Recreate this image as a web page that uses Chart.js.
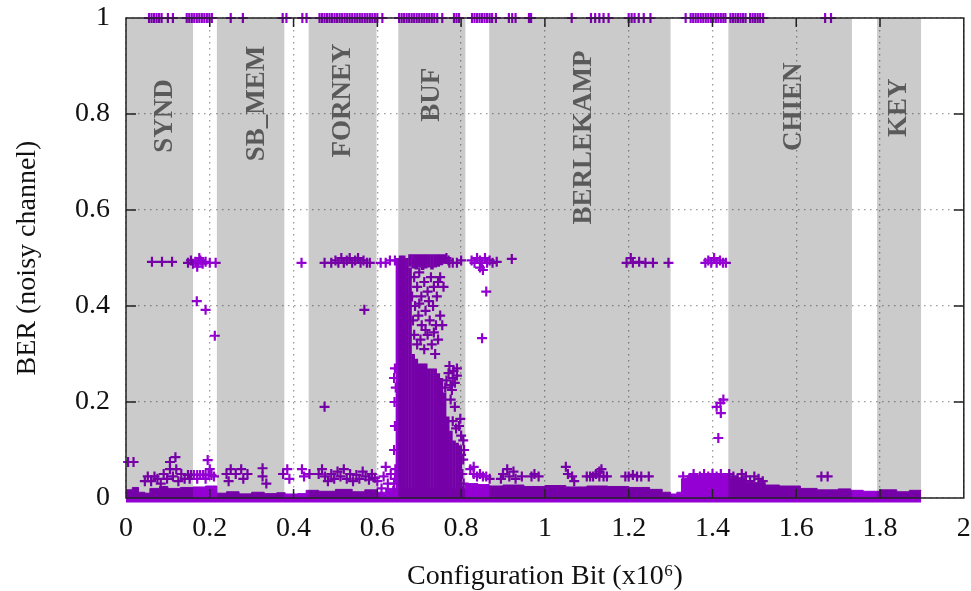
<!DOCTYPE html>
<html>
<head>
  <title>BER per configuration bit</title>
  <script src="https://cdn.jsdelivr.net/npm/chart.js"></script>
</head>
<body style="margin:0; background:#fff">
  <canvas id="chart" width="971" height="591"></canvas>

  <script>
    // module regions (x in units of 10^6 bits)
    const regionNames = ["SYND", "SB_MEM", "FORNEY", "BUF", "BERLEKAMP", "CHIEN", "KEY"];
    const regionStart = [0, 0.217, 0.436, 0.65, 0.867, 1.438, 1.793];
    const regionEnd = [0.16, 0.378, 0.598, 0.81, 1.3, 1.733, 1.898];

    const xTickLabels = ["0", "0.2", "0.4", "0.6", "0.8", "1", "1.2", "1.4", "1.6", "1.8", "2"];
    const yTickLabels = ["0", "0.2", "0.4", "0.6", "0.8", "1"];

    // bits with BER = 1
    const topX = [0.055, 0.061, 0.067, 0.073, 0.079, 0.085, 0.1, 0.112,
      0.145, 0.151, 0.157, 0.163, 0.169, 0.175, 0.181, 0.187, 0.193, 0.199, 0.205,
      0.25, 0.279, 0.374, 0.383, 0.421, 0.431,
      0.462, 0.468, 0.474, 0.48, 0.486, 0.492, 0.498, 0.504, 0.51, 0.516, 0.522, 0.528, 0.534,
      0.54, 0.546, 0.552, 0.558, 0.564, 0.57, 0.576, 0.582, 0.588, 0.594, 0.6, 0.612,
      0.652, 0.658, 0.664, 0.67, 0.676, 0.682, 0.688, 0.694, 0.7, 0.706, 0.712, 0.718,
      0.724, 0.73, 0.736, 0.743, 0.755, 0.783, 0.789, 0.795,
      0.826, 0.832, 0.838, 0.844, 0.85, 0.856, 0.862, 0.868, 0.874, 0.883,
      0.914, 0.922, 0.93, 0.962, 0.967, 1.064, 1.11, 1.12, 1.13, 1.14, 1.152,
      1.2, 1.207, 1.214, 1.224, 1.236, 1.252, 1.336,
      1.348, 1.354, 1.36, 1.366, 1.372, 1.378, 1.384, 1.39, 1.396, 1.402, 1.408, 1.414, 1.42, 1.426, 1.431,
      1.443, 1.449, 1.455, 1.461, 1.467, 1.473, 1.479, 1.49, 1.496, 1.502, 1.508, 1.514, 1.521,
      1.669, 1.683];

    // scattered bits around BER 0.5 and mid values
    const midX = [0.062, 0.086, 0.11, 0.148, 0.155, 0.16, 0.166, 0.172, 0.178, 0.183, 0.19, 0.2, 0.214, 0.175, 0.17,
      0.169, 0.19, 0.212, 0.419,
      0.474, 0.49, 0.5, 0.507, 0.514, 0.52, 0.527, 0.534, 0.54, 0.547, 0.554, 0.56, 0.567, 0.575, 0.582,
      0.569, 0.474, 0.608, 0.62, 0.63, 0.77, 0.78, 0.79, 0.8,
      0.825, 0.832, 0.838, 0.845, 0.85, 0.857, 0.862, 0.868, 0.875, 0.885, 0.845, 0.852,
      0.86, 0.85, 0.921,
      1.195, 1.205, 1.21, 1.225, 1.24, 1.258, 1.295,
      1.383, 1.39, 1.397, 1.404, 1.41, 1.418, 1.425, 1.432,
      1.41, 1.419, 1.426, 1.42, 1.414];
    const midY = [0.492, 0.492, 0.492, 0.49, 0.495, 0.488, 0.492, 0.49, 0.495, 0.488, 0.492, 0.49, 0.49, 0.5, 0.482,
      0.41, 0.392, 0.338, 0.49,
      0.49, 0.49, 0.495, 0.49, 0.5, 0.49, 0.495, 0.5, 0.49, 0.495, 0.5, 0.49, 0.495, 0.49, 0.49,
      0.392, 0.19, 0.49, 0.49, 0.495, 0.495, 0.49, 0.49, 0.495,
      0.495, 0.49, 0.5, 0.495, 0.49, 0.5, 0.49, 0.495, 0.49, 0.492, 0.48, 0.475,
      0.43, 0.333, 0.498,
      0.49, 0.5, 0.49, 0.492, 0.49, 0.49, 0.49,
      0.49, 0.495, 0.49, 0.5, 0.49, 0.495, 0.49, 0.49,
      0.19, 0.198, 0.205, 0.177, 0.125];

    // scattered bits with low BER (0.02 - 0.09)
    const lowX = [0.005, 0.018, 0.045, 0.052, 0.06, 0.068, 0.075, 0.083, 0.09, 0.098, 0.105, 0.105, 0.112, 0.118, 0.12, 0.125, 0.132, 0.14,
      0.148, 0.155, 0.162, 0.17, 0.177, 0.184, 0.19, 0.197, 0.204, 0.152, 0.17, 0.19, 0.195, 0.2, 0.21,
      0.24, 0.245, 0.25, 0.262, 0.275, 0.28, 0.29, 0.326, 0.326, 0.335, 0.375, 0.385, 0.39, 0.42, 0.425, 0.438,
      0.46, 0.468, 0.475, 0.482, 0.49, 0.497, 0.505, 0.512, 0.52, 0.527, 0.535, 0.542, 0.55, 0.557, 0.565, 0.572, 0.58, 0.587, 0.594, 0.6,
      0.61, 0.615, 0.62, 0.625, 0.632, 0.638, 0.642,
      0.822, 0.83, 0.838, 0.845, 0.852, 0.86, 0.868, 0.83,
      0.895, 0.9, 0.91, 0.915, 0.925, 0.93, 0.945, 0.968, 0.975, 0.985,
      1.05, 1.055, 1.065, 1.07, 1.1, 1.108, 1.115, 1.122, 1.13, 1.135, 1.14, 1.148, 1.13,
      1.192, 1.2, 1.21, 1.22, 1.23, 1.248,
      1.33, 1.345, 1.355, 1.36, 1.37, 1.38, 1.39, 1.4, 1.41, 1.42, 1.43, 1.44, 1.45, 1.46, 1.47, 1.48, 1.49, 1.5, 1.51, 1.52,
      1.66, 1.675];
    const lowY = [0.075, 0.075, 0.035, 0.045, 0.035, 0.045, 0.04, 0.03, 0.05, 0.04, 0.06, 0.075, 0.045, 0.085, 0.06, 0.035, 0.05, 0.04,
      0.048, 0.048, 0.048, 0.048, 0.048, 0.048, 0.048, 0.048, 0.048, 0.04, 0.04, 0.04, 0.079, 0.06, 0.045,
      0.05, 0.035, 0.06, 0.05, 0.06, 0.04, 0.05, 0.062, 0.045, 0.03, 0.05, 0.06, 0.04, 0.06, 0.045, 0.05,
      0.05, 0.06, 0.045, 0.035, 0.05, 0.04, 0.055, 0.045, 0.06, 0.04, 0.05, 0.035, 0.048, 0.04, 0.055, 0.045, 0.038, 0.05, 0.042, 0.035,
      0.02, 0.045, 0.065, 0.03, 0.05, 0.015, 0.04,
      0.06, 0.05, 0.045, 0.05, 0.045, 0.045, 0.04, 0.065,
      0.04, 0.05, 0.06, 0.045, 0.055, 0.04, 0.045, 0.045, 0.05, 0.045,
      0.065, 0.05, 0.045, 0.035, 0.045, 0.045, 0.045, 0.05, 0.045, 0.06, 0.045, 0.045, 0.055,
      0.045, 0.045, 0.048, 0.045, 0.045, 0.045,
      0.045, 0.04, 0.05, 0.03, 0.045, 0.05, 0.045, 0.05, 0.045, 0.05, 0.04, 0.05, 0.045, 0.04, 0.05, 0.045, 0.035, 0.045, 0.04, 0.035,
      0.045, 0.045];

    // BUF: scattered bits around the dense cloud
    const bufX = [0.642, 0.765, 0.772,
      0.688, 0.695, 0.7, 0.705, 0.712, 0.72, 0.728, 0.735, 0.742, 0.69, 0.698, 0.706, 0.715, 0.725, 0.733, 0.74, 0.75,
      0.688, 0.695, 0.703, 0.712, 0.72, 0.73, 0.738, 0.745, 0.755, 0.683, 0.685, 0.7, 0.723, 0.745, 0.75, 0.758, 0.715, 0.735,
      0.77, 0.78, 0.79, 0.785, 0.775, 0.765, 0.79, 0.782, 0.772, 0.762, 0.778,
      0.8, 0.805, 0.795, 0.78, 0.788, 0.798, 0.807, 0.775, 0.785,
      0.64, 0.642, 0.64, 0.643, 0.642, 0.641, 0.644, 0.64,
      0.805, 0.803, 0.806, 0.802, 0.8];
    const bufY = [0.495, 0.5, 0.49,
      0.46, 0.44, 0.47, 0.42, 0.45, 0.43, 0.46, 0.44, 0.42, 0.4, 0.38, 0.36, 0.39, 0.37, 0.4, 0.36, 0.38,
      0.34, 0.32, 0.33, 0.31, 0.34, 0.32, 0.3, 0.33, 0.36, 0.42, 0.37, 0.405, 0.41, 0.45, 0.46, 0.44, 0.35, 0.345,
      0.26, 0.25, 0.255, 0.24, 0.235, 0.245, 0.27, 0.265, 0.275, 0.23, 0.225,
      0.13, 0.12, 0.15, 0.16, 0.145, 0.165, 0.1, 0.205, 0.19,
      0.25, 0.27, 0.1, 0.06, 0.15, 0.2, 0.23, 0.03,
      0.08, 0.05, 0.03, 0.015, 0.09];

    // BUF: solid part of the cloud, per column
    const bufColX = [0.648, 0.6555, 0.663, 0.6705, 0.678, 0.6855, 0.693, 0.7005, 0.708, 0.7155, 0.723,
      0.7305, 0.738, 0.7455, 0.753, 0.7605, 0.768, 0.7755, 0.783, 0.7905, 0.798];
    const bufLowTop = [0.5, 0.505, 0.505, 0.5, 0.48, 0.3, 0.29, 0.28, 0.28, 0.28, 0.27,
      0.27, 0.27, 0.26, 0.25, 0.22, 0.17, 0.14, 0.12, 0.115, 0.11];
    const bufHighBottom = [null, null, null, null, 0.482, 0.478, 0.476, 0.48, 0.475, 0.478, 0.48,
      0.476, 0.48, 0.482, 0.485, 0.488, null, null, null, null, null];

    // upper edge of the dense band of bits with BER close to 0
    const bandX = [0, 0.015, 0.03, 0.045, 0.057, 0.08, 0.1, 0.13, 0.16, 0.19, 0.217, 0.24, 0.27, 0.3, 0.33, 0.36, 0.38, 0.41, 0.43,
      0.46, 0.5, 0.54, 0.57, 0.6, 0.62, 0.645, 0.81, 0.84, 0.867, 0.9, 0.95, 1.0, 1.05, 1.1, 1.15, 1.2, 1.25, 1.28, 1.3, 1.315,
      1.326, 1.34, 1.44, 1.48, 1.526, 1.56, 1.61, 1.65, 1.7, 1.73, 1.76, 1.8, 1.84, 1.87, 1.898];
    const bandY = [0.017, 0.022, 0.012, 0.01, 0.02, 0.024, 0.02, 0.022, 0.023, 0.025, 0.01, 0.013, 0.008, 0.012, 0.009, 0.011, 0.007, 0.009, 0.016,
      0.014, 0.018, 0.013, 0.017, 0.012, 0.02, 0.02, 0.03, 0.028, 0.025, 0.027, 0.024, 0.026, 0.023, 0.025, 0.024, 0.022, 0.018, 0.012, 0.006, 0.012,
      0.04, 0.047, 0.042, 0.032, 0.027, 0.025, 0.02, 0.017, 0.019, 0.016, 0.014, 0.017, 0.013, 0.016, 0.015];

    const purple = "#9400d3";
    const serif = "'Liberation Serif', 'Times New Roman', serif";

    const xy = (xs, ys) => xs.map((x, i) => ({ x: x, y: ys[i] }));
    const crossStyle = {
      type: "scatter",
      pointStyle: "cross",
      pointRadius: 5,
      borderWidth: 2.2,
      borderColor: purple,
      backgroundColor: purple,
      clip: false
    };

    const regionsPlugin = {
      id: "regions",
      beforeDraw(chart) {
        const ctx = chart.ctx;
        ctx.save();
        ctx.fillStyle = "#fff";
        ctx.fillRect(0, 0, chart.width, chart.height);
        ctx.restore();
      },
      afterDatasetsDraw(chart) {
        const ctx = chart.ctx;
        const a = chart.chartArea;
        const xs = chart.scales.x, ys = chart.scales.y;
        // grey module bands, multiplied over the points
        ctx.save();
        ctx.beginPath();
        ctx.rect(a.left, a.top, a.right - a.left, a.bottom - a.top);
        ctx.clip();
        ctx.globalCompositeOperation = "multiply";
        ctx.fillStyle = "#cbcbcb";
        for (let i = 0; i < regionNames.length; i++) {
          const x0 = xs.getPixelForValue(regionStart[i]);
          const x1 = xs.getPixelForValue(regionEnd[i]);
          ctx.fillRect(x0, a.top, x1 - x0, a.bottom - a.top);
        }
        ctx.restore();

        // border and inward tick marks
        ctx.save();
        ctx.strokeStyle = "#222";
        ctx.lineWidth = 1.5;
        ctx.strokeRect(a.left, a.top, a.right - a.left, a.bottom - a.top);
        ctx.beginPath();
        for (let i = 1; i < xTickLabels.length - 1; i++) {
          const px = xs.getPixelForValue(i * 0.2);
          ctx.moveTo(px, a.bottom); ctx.lineTo(px, a.bottom - 9);
          ctx.moveTo(px, a.top); ctx.lineTo(px, a.top + 9);
        }
        for (let i = 1; i < yTickLabels.length - 1; i++) {
          const py = ys.getPixelForValue(i * 0.2);
          ctx.moveTo(a.left, py); ctx.lineTo(a.left + 10, py);
          ctx.moveTo(a.right, py); ctx.lineTo(a.right - 10, py);
        }
        ctx.stroke();
        ctx.restore();

        // module names, written upwards
        const nameX = [0.093, 0.312, 0.519, 0.731, 1.093, 1.595, 1.845];
        const nameY = [0.796, 0.822, 0.828, 0.84, 0.751, 0.815, 0.813];
        ctx.save();
        ctx.fillStyle = "#5a5a5a";
        ctx.font = "bold 27px " + serif;
        ctx.textAlign = "center";
        ctx.textBaseline = "middle";
        for (let i = 0; i < regionNames.length; i++) {
          ctx.save();
          ctx.translate(xs.getPixelForValue(nameX[i]), ys.getPixelForValue(nameY[i]));
          ctx.rotate(-Math.PI / 2);
          ctx.fillText(regionNames[i], 0, 0);
          ctx.restore();
        }
        ctx.restore();
      }
    };

    new Chart(document.getElementById("chart"), {
      type: "scatter",
      data: {
        datasets: [
          Object.assign({ data: xy(topX, topX.map(() => 1)) }, crossStyle),
          Object.assign({ data: xy(midX, midY) }, crossStyle),
          Object.assign({ data: xy(bufX, bufY) }, crossStyle),
          Object.assign({ data: xy(lowX, lowY) }, crossStyle),
          {
            type: "bar",
            data: bufColX.map((x, i) => ({ x: x, y: [0, bufLowTop[i]] })),
            backgroundColor: purple,
            grouped: false,
            barPercentage: 1.15,
            categoryPercentage: 1
          },
          {
            type: "bar",
            data: bufColX.map((x, i) => ({ x: x, y: bufHighBottom[i] === null ? null : [bufHighBottom[i], 0.508] })),
            backgroundColor: purple,
            grouped: false,
            barPercentage: 1.15,
            categoryPercentage: 1
          },
          {
            type: "line",
            data: xy(bandX, bandY),
            stepped: true,
            fill: "origin",
            backgroundColor: purple,
            borderColor: purple,
            borderWidth: 1,
            pointRadius: 0,
            clip: false
          },
          {
            // bits at BER 0 along the whole design
            type: "line",
            data: xy([0, 1.898], [0, 0]),
            borderColor: purple,
            borderWidth: 9,
            pointRadius: 0,
            clip: false
          }
        ]
      },
      options: {
        responsive: false,
        animation: false,
        events: [],
        layout: { padding: { top: 18, right: 5, left: 0, bottom: 0 } },
        plugins: {
          legend: { display: false },
          tooltip: { enabled: false }
        },
        scales: {
          x: {
            type: "linear",
            offset: false,
            min: 0,
            max: 2,
            grid: { offset: false, color: "#9a9a9a", lineWidth: 1.3, drawTicks: false },
            border: { display: false, dash: [1.5, 4.5] },
            ticks: {
              stepSize: 0.2,
              padding: 14,
              color: "#111",
              font: { family: serif, size: 28 },
              maxRotation: 0,
              callback: (v, i) => xTickLabels[i]
            },
            title: {
              display: true,
              text: "Configuration Bit (x10\u2076)",
              color: "#111",
              font: { family: serif, size: 28, lineHeight: 1 },
              padding: { top: 0, bottom: 0 }
            },
            afterFit(scale) {
              scale.height = 93;
              scale.paddingLeft = 0;
              scale.paddingRight = 0;
            }
          },
          y: {
            type: "linear",
            min: 0,
            max: 1,
            grid: { color: "#9a9a9a", lineWidth: 1.3, drawTicks: false },
            border: { display: false, dash: [1.5, 4.5] },
            ticks: {
              stepSize: 0.2,
              padding: 16,
              color: "#111",
              font: { family: serif, size: 28 },
              callback: (v, i) => yTickLabels[i]
            },
            title: {
              display: true,
              text: "BER (noisy channel)",
              color: "#111",
              font: { family: serif, size: 28, lineHeight: 1 },
              padding: { top: 14, bottom: 0 }
            },
            afterFit(scale) {
              scale.width = 126;
              scale.paddingTop = 0;
              scale.paddingBottom = 0;
            }
          }
        }
      },
      plugins: [regionsPlugin]
    });
  </script>
</body>
</html>
